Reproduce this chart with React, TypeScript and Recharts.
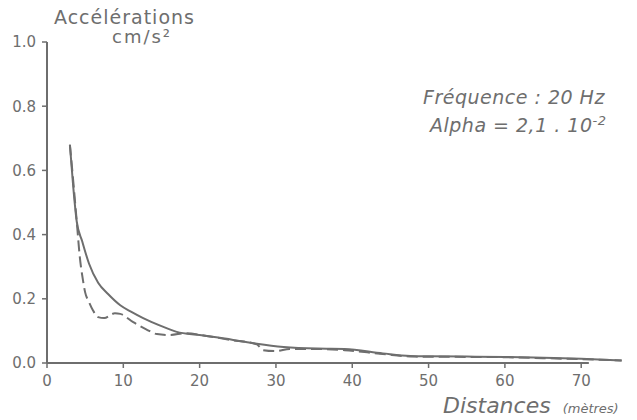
import { LineChart, Line, XAxis, YAxis, ReferenceLine } from 'recharts';

// courbe continue
const solidX = [3.0, 3.4, 3.9, 4.6, 5.5, 6.7, 8, 9.6, 11, 12.6, 15, 17, 20, 24.4, 27.5, 31, 35.4, 39, 44, 47.6, 50, 55, 60, 65, 70, 75.3];
const solidY = [0.68, 0.56, 0.44, 0.38, 0.31, 0.25, 0.215, 0.18, 0.16, 0.14, 0.115, 0.097, 0.087, 0.072, 0.06, 0.05, 0.045, 0.044, 0.03, 0.022, 0.021, 0.02, 0.019, 0.016, 0.013, 0.008];

// courbe tiretée
const dashedX = [3.0, 3.5, 3.9, 4.3, 4.7, 5.0, 5.5, 6.0, 6.7, 7.5, 8.9, 9.6, 11.3, 13, 14.4, 16, 18.3, 20.7, 24, 27.5, 28.3, 30, 31.8, 35, 39, 44, 48, 55, 60, 65, 70, 75.3];
const dashedY = [0.68, 0.55, 0.44, 0.33, 0.26, 0.22, 0.19, 0.165, 0.143, 0.14, 0.155, 0.153, 0.127, 0.105, 0.09, 0.087, 0.093, 0.085, 0.072, 0.058, 0.04, 0.037, 0.044, 0.044, 0.04, 0.028, 0.02, 0.019, 0.018, 0.015, 0.012, 0.008];

const xTicks = [0, 10, 20, 30, 40, 50, 60, 70];
const yTicks = [0, 0.2, 0.4, 0.6, 0.8, 1.0];

const INK = '#6e6e6e';
const FONT = '"DejaVu Sans", sans-serif';

const solidData = solidX.map((x, i) => ({ x, y: solidY[i] }));
const dashedData = dashedX.map((x, i) => ({ x, y: dashedY[i] }));

export default function App() {
  return (
    <div style={{ position: 'absolute', left: 0, top: 0, width: 637, height: 420, background: '#fff', fontFamily: FONT, color: INK }}>
      <LineChart width={637} height={420} margin={{ top: 42, right: 10, bottom: 27, left: 0 }}>
        <XAxis
          type="number"
          dataKey="x"
          domain={[0, 76]}
          ticks={xTicks}
          axisLine={false}
          tickSize={5}
          tickMargin={7}
          tickLine={{ stroke: INK, strokeWidth: 1.5 }}
          tick={{ fill: INK, fontSize: 15, fontFamily: FONT }}
          height={30}
          allowDuplicatedCategory={false}
        />
        <YAxis
          type="number"
          dataKey="y"
          domain={[0, 1]}
          ticks={yTicks}
          width={47}
          tickSize={5}
          tickMargin={6}
          axisLine={{ stroke: INK, strokeWidth: 2 }}
          tickLine={{ stroke: INK, strokeWidth: 1.5 }}
          tickFormatter={(v: number) => v.toFixed(1)}
          tick={{ fill: INK, fontSize: 15, fontFamily: FONT }}
        />
        <ReferenceLine
          segment={[{ x: 0, y: 0 }, { x: 71, y: 0 }]}
          stroke={INK}
          strokeWidth={2}
          ifOverflow="visible"
        />
        <Line
          data={solidData}
          dataKey="y"
          type="monotone"
          stroke={INK}
          strokeWidth={2}
          dot={false}
          isAnimationActive={false}
        />
        <Line
          data={dashedData}
          dataKey="y"
          type="monotone"
          stroke={INK}
          strokeWidth={2}
          strokeDasharray="11 5"
          dot={false}
          isAnimationActive={false}
        />
      </LineChart>

      <div style={{ position: 'absolute', left: 54, top: 6, fontSize: 19, letterSpacing: 1, lineHeight: '22px' }}>Accélérations</div>
      <div style={{ position: 'absolute', left: 112, top: 26, fontSize: 18, letterSpacing: 2, lineHeight: '22px' }}>cm/s²</div>

      <div style={{ position: 'absolute', left: 423, top: 86, fontSize: 19, letterSpacing: 0.5, fontStyle: 'italic', lineHeight: '22px' }}>
        Fréquence : 20 Hz
      </div>
      <div style={{ position: 'absolute', left: 430, top: 110, fontSize: 19, letterSpacing: 0.5, fontStyle: 'italic', lineHeight: '22px' }}>
        Alpha = 2,1 . 10<sup style={{ fontSize: 13 }}>-2</sup>
      </div>

      <div style={{ position: 'absolute', left: 443, top: 395, fontSize: 22, fontStyle: 'italic', lineHeight: '22px' }}>
        Distances
        <span style={{ fontSize: 13, marginLeft: 12 }}>(mètres)</span>
      </div>
    </div>
  );
}
